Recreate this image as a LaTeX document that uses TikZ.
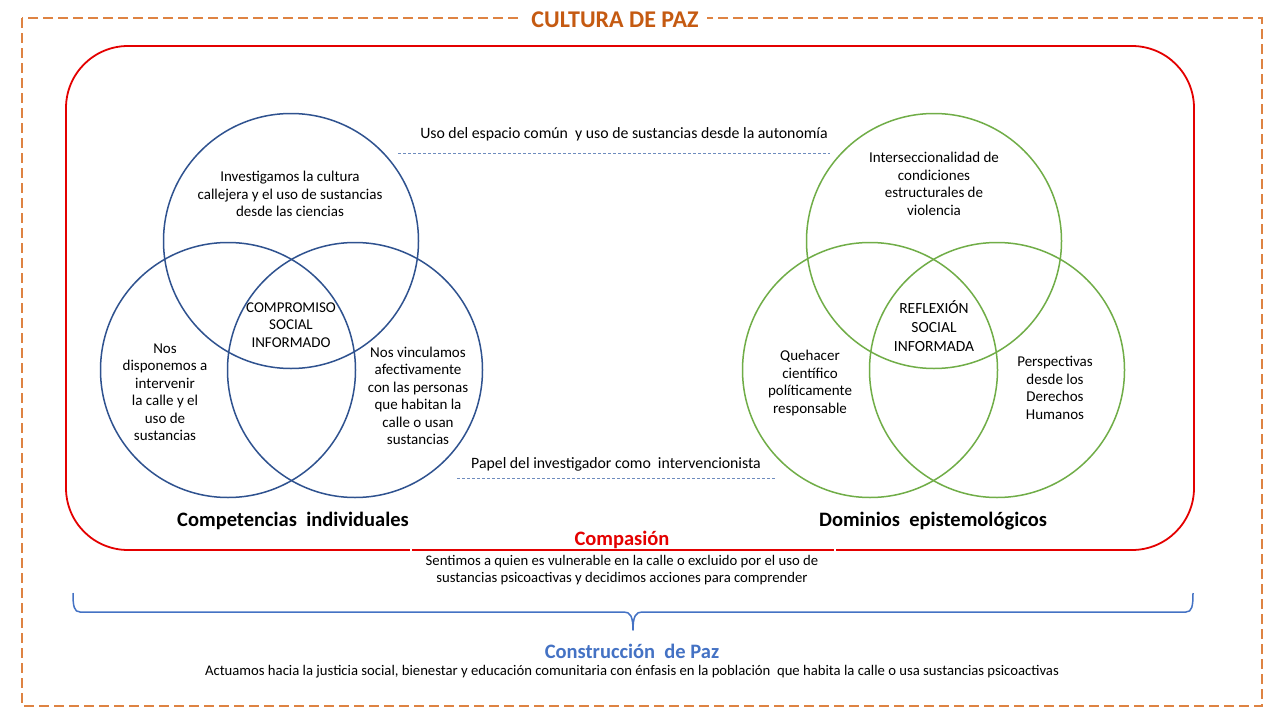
\documentclass[tikz,border=0pt]{standalone}
\usepackage{fontspec}
\setmainfont{Carlito}
\definecolor{frameorange}{RGB}{222,131,66}
\definecolor{titleorange}{RGB}{197,90,17}
\definecolor{boxred}{RGB}{228,0,0}
\definecolor{venblue}{RGB}{47,82,143}
\definecolor{vengreen}{RGB}{112,173,71}
\definecolor{pazblue}{RGB}{68,114,196}
\definecolor{dashblue}{RGB}{110,140,190}
\begin{document}
\begin{tikzpicture}[x=1pt,y=-1pt,
  venn/.style={circle, draw, line width=1.5pt, minimum size=255pt, inner sep=0pt},
  bluevenn/.style={venn, draw=venblue},
  greenvenn/.style={venn, draw=vengreen},
  vtext/.style={align=center, font=\fontsize{15}{17.5}\selectfont, inner sep=0pt},
  ctext/.style={align=center, font=\fontsize{15.5}{18.8}\selectfont, inner sep=0pt},
  headlabel/.style={font=\fontsize{20.5}{22}\selectfont\bfseries, inner sep=1pt},
  smalltext/.style={align=center, font=\fontsize{14.7}{17.5}\selectfont, inner sep=0pt},
  linklabel/.style={font=\fontsize{15.8}{18}\selectfont, inner sep=0pt},
  linkline/.style={draw=dashblue, line width=0.8pt, dash pattern=on 3pt off 2pt}
]
\useasboundingbox (0,0) rectangle (1280,720);
\fill[white] (0,0) rectangle (1280,720);

% outer dashed frame
\draw[frameorange, line width=1.5pt, dash pattern=on 10pt off 5pt] (22,18) rectangle (1262,706);
\node[fill=white, inner xsep=8pt, inner ysep=1pt, text=titleorange, font=\fontsize{24}{26}\selectfont\bfseries] (title) at (615,20) {CULTURA DE PAZ};

% red rounded box
\draw[boxred, line width=1.8pt, rounded corners=62pt] (66,46) rectangle (1194,550);
\fill[white] (409.5,547) rectangle (411.5,553);
\fill[white] (834,547) rectangle (836,553);

% left Venn
\node[bluevenn] (lt) at (291,241) {};
\node[bluevenn] (ll) at (228,370) {};
\node[bluevenn] (lr) at (355,370) {};
\node[vtext] (ltt) at (290,194) {Investigamos la cultura\\callejera y el uso de sustancias\\desde las ciencias};
\node[vtext] (lct) at (291,325) {COMPROMISO\\SOCIAL\\INFORMADO};
\node[vtext] (llt) at (165,392) {Nos\\disponemos a\\intervenir\\la calle y el\\uso de\\sustancias};
\node[vtext] (lrt) at (418,396) {Nos vinculamos\\afectivamente\\con las personas\\que habitan la\\calle o usan\\sustancias};

% right Venn
\node[greenvenn] (rt) at (934,241) {};
\node[greenvenn] (rl) at (870,370) {};
\node[greenvenn] (rr) at (997,370) {};
\node[vtext] (rtt) at (934,184) {Interseccionalidad de\\condiciones\\estructurales de\\violencia};
\node[ctext] (rct) at (934,326) {REFLEXIÓN\\SOCIAL\\INFORMADA};
\node[vtext] (rlt) at (810,383) {Quehacer\\científico\\políticamente\\responsable};
\node[vtext] (rrt) at (1055,388) {Perspectivas\\desde los\\Derechos\\Humanos};

% links between the two Venns
\node[linklabel] (top) at (624,134) {Uso del espacio común \ y uso de sustancias desde la autonomía};
\coordinate (topa) at (398,153);
\coordinate (topb) at (830,153);
\draw[linkline] (topa) -- (topb);
\node[linklabel] (bot) at (616,464) {Papel del investigador como \ intervencionista};
\coordinate (bota) at (457,478);
\coordinate (botb) at (775,478);
\draw[linkline] (bota) -- (botb);

% headings
\node[headlabel] (comp) at (293,521) {Competencias \ individuales};
\node[headlabel] (dom) at (933,521) {Dominios \ epistemológicos};
\node[headlabel, text=boxred] (compa) at (622,540) {Compasión};
\node[smalltext] (sent) at (622,570) {Sentimos a quien es vulnerable en la calle o excluido por el uso de\\sustancias psicoactivas y decidimos acciones para comprender};

% brace
\draw[pazblue, line width=1.5pt, line join=round]
  (73,593) .. controls (73,606) and (74,612) .. (80,612) -- (624,612)
  .. controls (630,612) and (633,616) .. (633,630)
  .. controls (633,616) and (636,612) .. (642,612) -- (1186,612)
  .. controls (1192,612) and (1193,606) .. (1193,593);

\node[headlabel, text=pazblue] (paz) at (632,651) {Construcción \ de Paz};
\node[smalltext] (act) at (632,672) {Actuamos hacia la justicia social, bienestar y educación comunitaria con énfasis en la población \ que habita la calle o usa sustancias psicoactivas};
\end{tikzpicture}
\end{document}
